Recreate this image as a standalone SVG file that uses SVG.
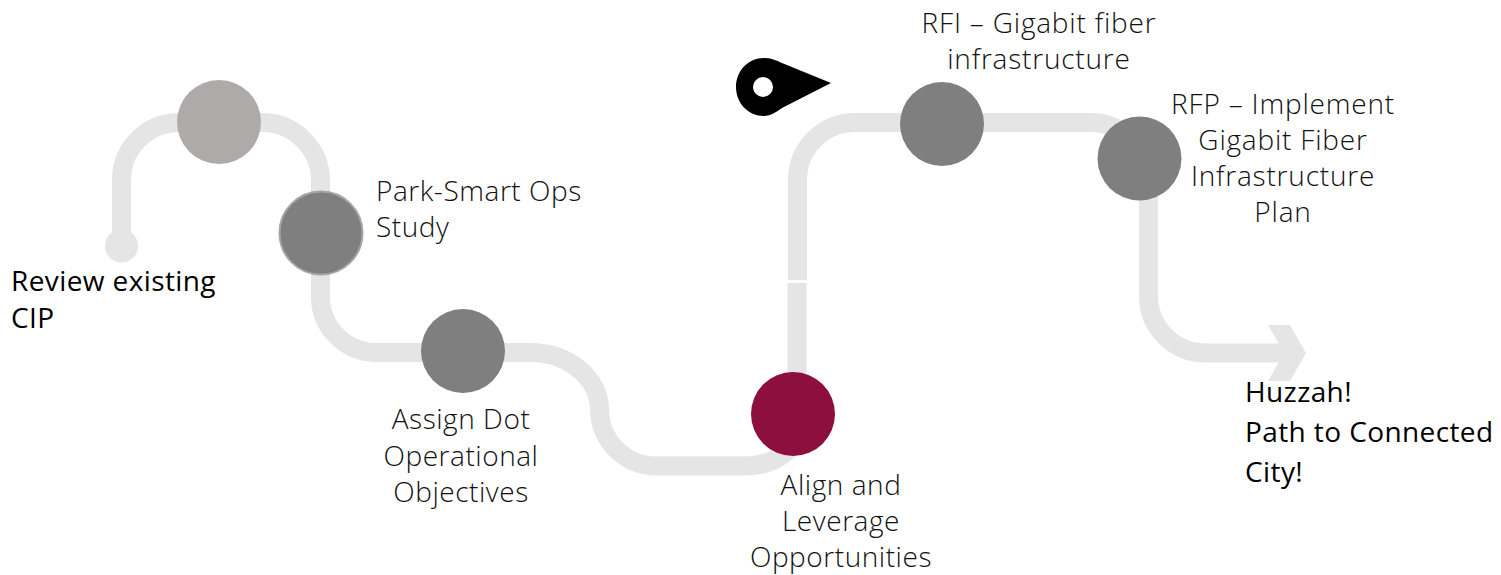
<svg xmlns="http://www.w3.org/2000/svg" width="1501" height="575" viewBox="0 0 1501 575">
<style>
.p{fill:none;stroke:#e5e5e5;stroke-width:19}
.d{fill:#7f7f7f}
text{font-family:"Open Sans","Liberation Sans",sans-serif;font-size:28px;font-weight:300;fill:#111;letter-spacing:.55px}
.b{font-weight:400;font-size:28px;fill:#000;letter-spacing:.4px}
.w{letter-spacing:.8px}
.m{text-anchor:middle}
</style>
<rect width="1501" height="575" fill="#fff"/>
<g id="connectors">
<circle cx="121.500" cy="246" r="16.500" fill="#e5e5e5"/>
<path class="p" d="M121.500 246V180A57.500 57.500 0 0 1 179 122.500H262A58.500 58.500 0 0 1 320.500 181V296A56 56 0 0 0 376.500 352.500H530A69.500 57 0 0 1 599.500 409A57 57 0 0 0 656 466H745Q775 466 793 445"/>
<path class="p" d="M797 400V283"/>
<path class="p" d="M797.500 280V180A57.500 57.500 0 0 1 855 122.500H1090A58 58 0 0 1 1148.500 180.500V296A57 57 0 0 0 1205.500 353H1290"/>
<path d="M1268 325H1290L1306 353L1290 381H1268L1284 353Z" fill="#e5e5e5"/>
</g>
<g id="pin"><path fill-rule="evenodd" d="M764 58C771 58 776 60 782 63L831 83L782 108C776 112 771 116 764 116C748 116 736 103 736 87C736 71 748 58 764 58ZM763 77A10 10 0 1 0 763 97A10 10 0 1 0 763 77Z" fill="#000"/></g>
<g id="node-review"><text class="b" x="11" y="291">Review existing</text><text class="b" x="11" y="328">CIP</text></g>
<g id="node-top"><circle cx="219" cy="122" r="42" fill="#aeaaaa"/></g>
<g id="node-park"><circle class="d" cx="321" cy="233" r="41.500" stroke="#a5a5a5" stroke-width="2"/><text x="376" y="201">Park-Smart Ops</text><text x="376" y="237">Study</text></g>
<g id="node-assign"><circle class="d" cx="463" cy="351" r="42"/><text class="m" x="461" y="429">Assign Dot</text><text class="m" x="461" y="466">Operational</text><text class="m" x="461" y="502">Objectives</text></g>
<g id="node-align"><circle cx="793" cy="414" r="42" fill="#8c0f3e"/><text class="m" x="841" y="495">Align and</text><text class="m" x="841" y="531">Leverage</text><text class="m" x="841" y="567">Opportunities</text></g>
<g id="node-rfi"><circle class="d" cx="942" cy="124" r="42"/><text class="m w" x="1039" y="33">RFI – Gigabit fiber</text><text class="m w" x="1039" y="69">infrastructure</text></g>
<g id="node-rfp"><circle class="d" cx="1139.500" cy="158.500" r="42"/><text class="m w" x="1283" y="114">RFP – Implement</text><text class="m w" x="1283" y="150">Gigabit Fiber</text><text class="m w" x="1283" y="186">Infrastructure</text><text class="m w" x="1283" y="222">Plan</text></g>
<g id="node-end"><text class="b" x="1245" y="402">Huzzah!</text><text class="b" x="1245" y="442">Path to Connected</text><text class="b" x="1245" y="482">City!</text></g>
</svg>
